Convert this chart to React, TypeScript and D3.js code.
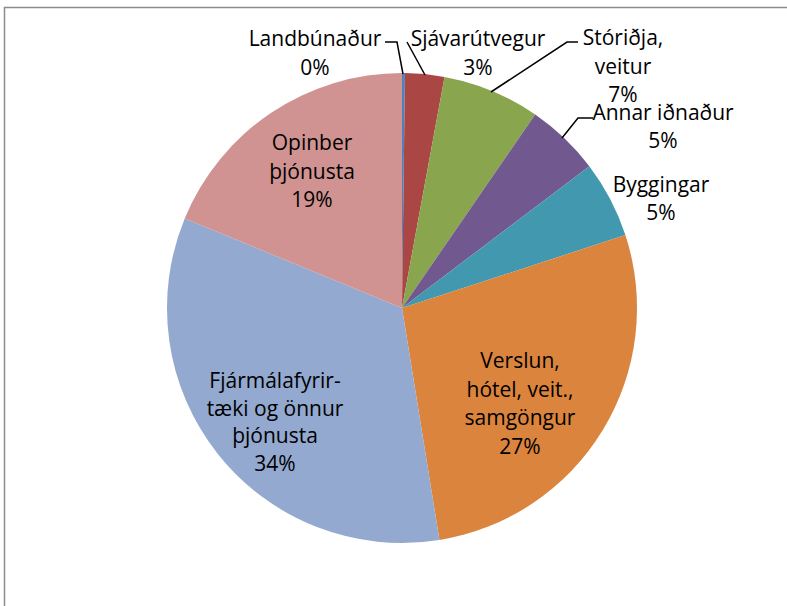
import React from "react";
import * as d3 from "d3";

const categories = [
  "Landbúnaður",
  "Sjávarútvegur",
  "Stóriðja, veitur",
  "Annar iðnaður",
  "Byggingar",
  "Verslun, hótel, veit., samgöngur",
  "Fjármálafyrirtæki og önnur þjónusta",
  "Opinber þjónusta",
];
const values = [0.2, 2.7, 6.7, 5.1, 5.3, 27.5, 33.8, 18.8];
const percentLabels = ["0%", "3%", "7%", "5%", "5%", "27%", "34%", "19%"];
const labelLines = [
  ["Landbúnaður", "0%"],
  ["Sjávarútvegur", "3%"],
  ["Stóriðja,", "veitur", "7%"],
  ["Annar iðnaður", "5%"],
  ["Byggingar", "5%"],
  ["Verslun,", "hótel, veit.,", "samgöngur", "27%"],
  ["Fjármálafyrir-", "tæki og önnur", "þjónusta", "34%"],
  ["Opinber", "þjónusta", "19%"],
];
const colors = ["#4F81BD", "#AA4643", "#89A54E", "#71588F", "#4198AF", "#DB843D", "#93A9CF", "#D19392"];

// layout: label block centres (x, first-line baseline y, line step) and leader lines
const labelLayout = [
  { x: 315, y: 46, lh: 28.5 },
  { x: 478, y: 46, lh: 28.5 },
  { x: 623, y: 45, lh: 28.5 },
  { x: 663, y: 120, lh: 28 },
  { x: 661, y: 192, lh: 27.5 },
  { x: 520, y: 368, lh: 28.5 },
  { x: 275, y: 388, lh: 27.5 },
  { x: 312, y: 150, lh: 28.5 },
];
const leaders: (number[][] | null)[] = [
  [[385, 42], [397, 42], [403, 74]],
  [[407, 42], [425, 75]],
  [[578, 42], [567, 42], [491, 92]],
  [[593, 118], [578, 118], [562, 138]],
  null,
  null,
  null,
  null,
];

const W = 787;
const H = 606;
const cx = 402;
const cy = 308;
const R = 235;

export default function App() {
  const pie = d3.pie<number>().sort(null).value((d) => d)(values);
  const arc = d3.arc<d3.PieArcDatum<number>>().innerRadius(0).outerRadius(R);
  const line = d3.line();
  return (
    <svg
      width={W}
      height={H}
      style={{ position: "absolute", left: 0, top: 0, fontFamily: "'Open Sans', sans-serif" }}
    >
      <rect x={0} y={0} width={W} height={H} fill="#fff" />
      <path d={`M4.5,${H} L4.5,7.5 L${W},7.5`} fill="none" stroke="#8c8c8c" strokeWidth={1.5} />
      <g transform={`translate(${cx},${cy})`}>
        {pie.map((p, i) => (
          <path key={i} d={arc(p) || ""} fill={colors[i]} />
        ))}
      </g>
      {leaders.map((l, i) =>
        l ? <path key={i} d={line(l as [number, number][]) || ""} fill="none" stroke="#000" strokeWidth={1.5} /> : null
      )}
      {labelLines.map((lines, i) => (
        <text key={i} textAnchor="middle" fontSize={21} fill="#000">
          {lines.map((t, j) => (
            <tspan key={j} x={labelLayout[i].x} y={labelLayout[i].y + j * labelLayout[i].lh}>
              {t}
            </tspan>
          ))}
        </text>
      ))}
    </svg>
  );
}
